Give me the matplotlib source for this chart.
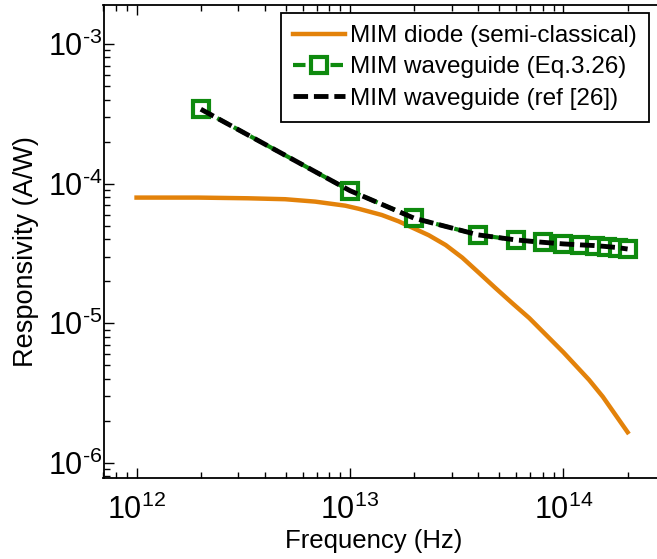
import matplotlib
matplotlib.use("Agg")
import math
import matplotlib.pyplot as plt
from matplotlib.ticker import LogLocator, FuncFormatter, NullFormatter
from matplotlib.mathtext import MathTextParser

plt.rcParams['font.family'] = ['Liberation Sans', 'DejaVu Sans']
plt.rcParams['mathtext.fontset'] = 'custom'
plt.rcParams['mathtext.rm'] = 'Liberation Sans'
plt.rcParams['mathtext.it'] = 'Liberation Sans:italic'
plt.rcParams['mathtext.bf'] = 'Liberation Sans:bold'

# Data
diode_freq = [1e12, 1.94e12, 3.33e12, 4.97e12, 6.87e12, 9.5e12, 1.1e13, 1.41e13, 1.69e13, 2.34e13,
              2.81e13, 3.36e13, 4.03e13, 4.82e13, 5.77e13, 6.92e13, 1e14, 1.32e14, 1.53e14, 2e14]
diode_resp = [7.94e-5, 7.94e-5, 7.85e-5, 7.73e-5, 7.43e-5, 6.95e-5, 6.6e-5, 5.96e-5, 5.37e-5, 4.27e-5,
              3.63e-5, 2.95e-5, 2.29e-5, 1.78e-5, 1.39e-5, 1.09e-5, 6.2e-6, 3.93e-6, 2.98e-6, 1.66e-6]

wg_freq = [2e12, 1e13, 2e13, 4e13, 6e13, 8e13, 1e14, 1.2e14, 1.4e14, 1.6e14, 1.8e14, 2e14]
wg_eq_resp = [3.41e-4, 8.9e-5, 5.65e-5, 4.29e-5, 3.95e-5, 3.8e-5, 3.7e-5, 3.64e-5, 3.6e-5, 3.54e-5, 3.48e-5, 3.4e-5]
wg_ref_resp = [3.41e-4, 8.9e-5, 5.65e-5, 4.29e-5, 3.95e-5, 3.8e-5, 3.7e-5, 3.64e-5, 3.6e-5, 3.54e-5, 3.48e-5, 3.4e-5]

labels = ['MIM diode (semi-classical)', 'MIM waveguide (Eq.3.26)', 'MIM waveguide (ref [26])']
x_label = 'Frequency (Hz)'
y_label = 'Responsivity (A/W)'

# hyphen for negative exponents (MATLAB style)
_hy = r'\text{-}'
try:
    MathTextParser('path').parse(r'$10^{\text{-}3}$')
except Exception:
    _hy = '\u2010'


def fmt(v, pos):
    e = int(round(math.log10(v)))
    s = str(abs(e))
    if e < 0:
        s = _hy + s
    return r'$10^{%s}$' % s


W, H = 657, 559
fig = plt.figure(figsize=(W/100, H/100), dpi=100)
ax = fig.add_axes([103.5/W, (H-478)/H, (680-103.5)/W, (478-5)/H])

orange = '#E3820A'
green = '#0E8A0E'
ax.plot(diode_freq, diode_resp, color=orange, lw=3.2, label=labels[0])
ax.plot(wg_freq, wg_eq_resp, color=green, lw=3.0, ls=(0, (3, 1.5)), marker='s', ms=11,
        mfc='white', mec=green, mew=3.0, label=labels[1])
ax.plot(wg_freq, wg_ref_resp, color='black', lw=3.5, ls=(0, (3, 1.2)), label=labels[2])

ax.set_xscale('log')
ax.set_yscale('log')
ax.set_xlim(7e11, 3.52e14)
ax.set_ylim(7.8e-7, 1.9e-3)

for a in (ax.xaxis, ax.yaxis):
    a.set_major_locator(LogLocator(base=10, numticks=20))
    a.set_minor_locator(LogLocator(base=10, subs=range(2, 10), numticks=20))
    a.set_minor_formatter(NullFormatter())
    a.set_major_formatter(FuncFormatter(fmt))

ax.tick_params(which='both', direction='in', top=True, right=True, labelsize=22, width=1.0)
ax.tick_params(which='major', length=7)
ax.tick_params(which='minor', length=4)
ax.tick_params(axis='x', which='major', pad=12)
ax.tick_params(axis='y', which='major', pad=1)
for s in ax.spines.values():
    s.set_linewidth(1.3)

fig.text(374/W, 1-541/H, x_label, fontsize=18.5, ha='center', va='center')
fig.text(26/W, 1-252/H, y_label, fontsize=19.5, ha='center', va='center', rotation=90)

leg = ax.legend(loc='upper right', bbox_to_anchor=(649/W, 1-13/H), bbox_transform=fig.transFigure,
                fontsize=17.5, frameon=True, fancybox=False, framealpha=1, edgecolor='black',
                handlelength=2.15, handletextpad=0.2, borderpad=0.5, labelspacing=0.38,
                borderaxespad=0)
leg.get_frame().set_linewidth(1.3)

fig.savefig('out.png', dpi=100)
